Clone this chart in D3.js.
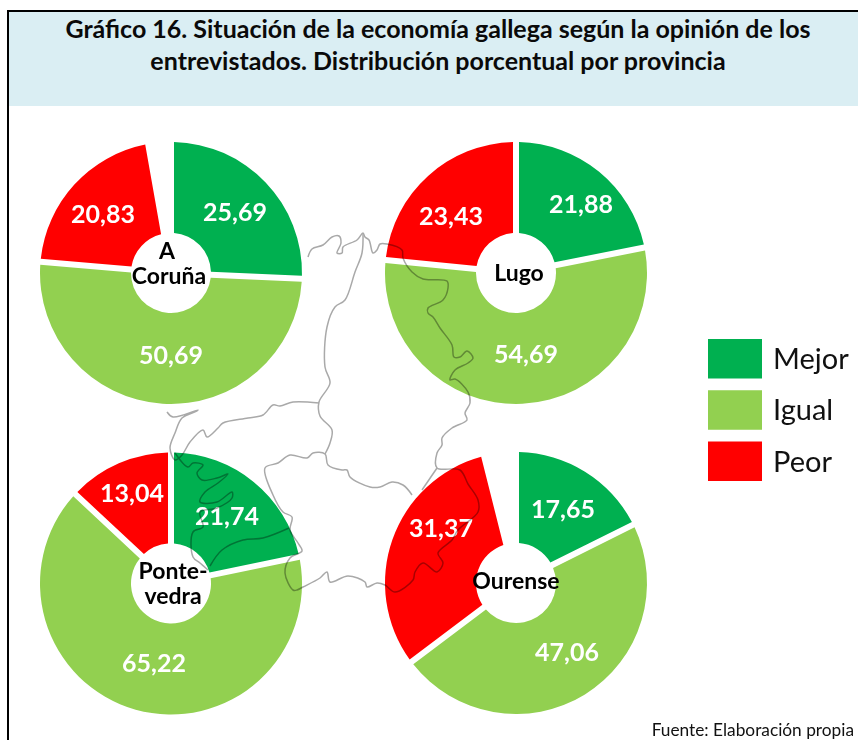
<!DOCTYPE html>
<html><head><meta charset="utf-8">
<script src="https://cdn.jsdelivr.net/npm/d3@7/dist/d3.min.js"></script>
<style>html,body{margin:0;padding:0;background:#fff;overflow:hidden}svg{display:block;filter:blur(0.4px)}text{font-family:Lato,"Open Sans",sans-serif}</style>
</head><body><svg id="c" width="858" height="740"></svg>
<script>
const titleLines = ["Gráfico 16. Situación de la economía gallega según la opinión de los","entrevistados. Distribución porcentual por provincia"];
const source = "Fuente: Elaboración propia";
const categories = ["Mejor","Igual","Peor"];
const colours = ["#00B050","#92D050","#FF0000"];
const provinces = ["A Coruña","Lugo","Pontevedra","Ourense"];
const provinceLabels = [["A","Coruña"],["Lugo"],["Ponte-","vedra"],["Ourense"]];
const mejor = [25.69,21.88,21.74,17.65];
const igual = [50.69,54.69,65.22,47.06];
const peor  = [20.83,23.43,13.04,31.37];
const seriesValues = [mejor,igual,peor];
// layout of the small multiples
const pieCentres = [[171,273],[516,273],[171,583.5],[516,583]];
const valueOffsets = [
  [[64,-61],[0,82],[-68,-59]],
  [[65,-69],[10,81],[-65,-57]],
  [[56,-67],[-17,80],[-39,-90]],
  [[47,-74],[51,69],[-75,-55]]];
const nameOffsets = [[[-4,-22],[-2,3]],[[3,0]],[[2,-12.5],[2,12.5]],[[0,-2]]];
// hand-traced decorative map outline of Galicia (page pixels)
const mapLines = [
 [[308,257],[312,249],[323,245],[332,237],[339,236],[341,243],[337,253],[342,253],[343,247],[357,240],[363,233],[365,237],[369,240],[373,253],[377,250],[380,244],[387,244],[402,250],[403,258],[412,272],[423,279],[447,281],[448,288],[443,300],[428,308],[428,313],[433,317],[440,328],[452,345],[454,357],[460,357],[467,351],[473,358],[468,363],[455,370],[450,380],[455,379],[468,392],[470,403],[465,413],[467,420],[452,428],[442,438],[442,445],[437,453],[437,468],[460,470],[468,484],[478,500],[478,512],[458,530],[452,540],[438,553],[443,563],[437,572],[423,563],[415,572],[413,580],[395,592],[385,585],[377,583],[367,587],[365,582],[348,576],[330,582],[327,572],[320,578],[303,587],[297,590],[293,590],[285,573],[290,558],[302,551],[298,543],[290,530],[292,517],[283,512],[273,495],[265,468],[278,463],[290,455],[307,458],[313,453],[325,454],[328,465],[342,470],[347,470],[350,477],[370,487],[380,487],[392,482],[403,485],[412,495]],
 [[437,468],[422,490]],
 [[363,233],[362,253],[355,272],[345,300],[335,307],[327,327],[325,367],[330,383],[319,402],[320,416],[332,430],[330,443],[325,454]],
 [[319,403],[293,402],[280,406],[273,405],[263,415],[248,418],[223,423],[218,428],[207,437],[203,430],[190,442],[182,455],[175,460],[170,448],[175,433],[182,418],[197,411],[198,410],[173,417],[167,412]],
 [[175,453],[188,467],[193,463],[203,465],[197,473],[202,480],[217,478],[228,474],[218,483],[205,492],[200,502],[217,502],[232,492],[232,498],[217,508],[200,512],[203,527],[193,532],[193,557],[200,563],[208,570]],
 [[210,566],[222,550],[243,540],[263,538],[289,528]]
];
const svg = d3.select("#c");
// frame and heading
svg.append("rect").attr("x",8).attr("y",12).attr("width",850).attr("height",94).attr("fill","#DAEEF3");
svg.append("line").attr("x1",7).attr("x2",858).attr("y1",11).attr("y2",11).attr("stroke","#000").attr("stroke-width",2);
svg.append("line").attr("x1",8).attr("x2",8).attr("y1",10).attr("y2",740).attr("stroke","#000").attr("stroke-width",2);
svg.selectAll(".t").data(titleLines).join("text").attr("class","t")
 .attr("x",438).attr("y",(d,i)=>38+i*32).attr("text-anchor","middle")
 .attr("font-size",25).attr("font-weight",700).attr("fill","#0a0a0a").text(d=>d);
// pies
const angle = d3.scaleLinear().domain([0,100]).range([0,2*Math.PI]);
const R=131, r=40, gap=6;
const arc = d3.arc().innerRadius(r).outerRadius(R).padRadius(R).padAngle(gap/R);
const g = svg.selectAll(".pie").data(provinces).join("g").attr("class","pie")
 .attr("transform",(d,i)=>`translate(${pieCentres[i]})`);
g.each(function(p,i){
  let acc=0;
  const slices = seriesValues.map((s,k)=>{const a=acc; acc+=s[i]; return {k,start:angle(a),end:angle(acc)};});
  d3.select(this).selectAll("path").data(slices).join("path")
    .attr("d",d=>arc({startAngle:d.start,endAngle:d.end})).attr("fill",d=>colours[d.k]);
});
// map overlay
const line = d3.line().curve(d3.curveCatmullRom.alpha(0.5));
svg.append("g").style("mix-blend-mode","multiply").selectAll("path").data(mapLines).join("path")
 .attr("d",line).attr("fill","none").attr("stroke","#a9a9a9").attr("stroke-width",1.5).attr("stroke-linejoin","round");
// labels
g.each(function(p,i){
  const sel=d3.select(this);
  seriesValues.forEach((s,k)=>{
    sel.append("text").attr("x",valueOffsets[i][k][0]).attr("y",valueOffsets[i][k][1]).attr("dy","0.35em")
     .attr("text-anchor","middle").attr("font-size",25).attr("font-weight",700).attr("fill","#fff")
     .text(d3.format(".2f")(s[i]).replace(".",","));
  });
  provinceLabels[i].forEach((t,k)=>{
    sel.append("text").attr("x",nameOffsets[i][k][0]).attr("y",nameOffsets[i][k][1]).attr("dy","0.35em")
     .attr("text-anchor","middle").attr("font-size",23).attr("font-weight",700).attr("fill","#000").text(t);
  });
});
// legend
const legendY = d3.scalePoint().domain(categories).range([339,441.5]);
const lg = svg.selectAll(".lg").data(categories).join("g").attr("class","lg").attr("transform",d=>`translate(708,${legendY(d)})`);
lg.append("rect").attr("width",54).attr("height",39.5).attr("fill",(d,i)=>colours[i]);
lg.append("text").attr("x",65).attr("y",20).attr("dy","0.35em").attr("font-size",29).attr("fill","#111").text(d=>d);
svg.append("text").attr("x",854).attr("y",735.5).attr("text-anchor","end").attr("font-size",17.3).attr("fill","#111").text(source);
</script></body></html>
